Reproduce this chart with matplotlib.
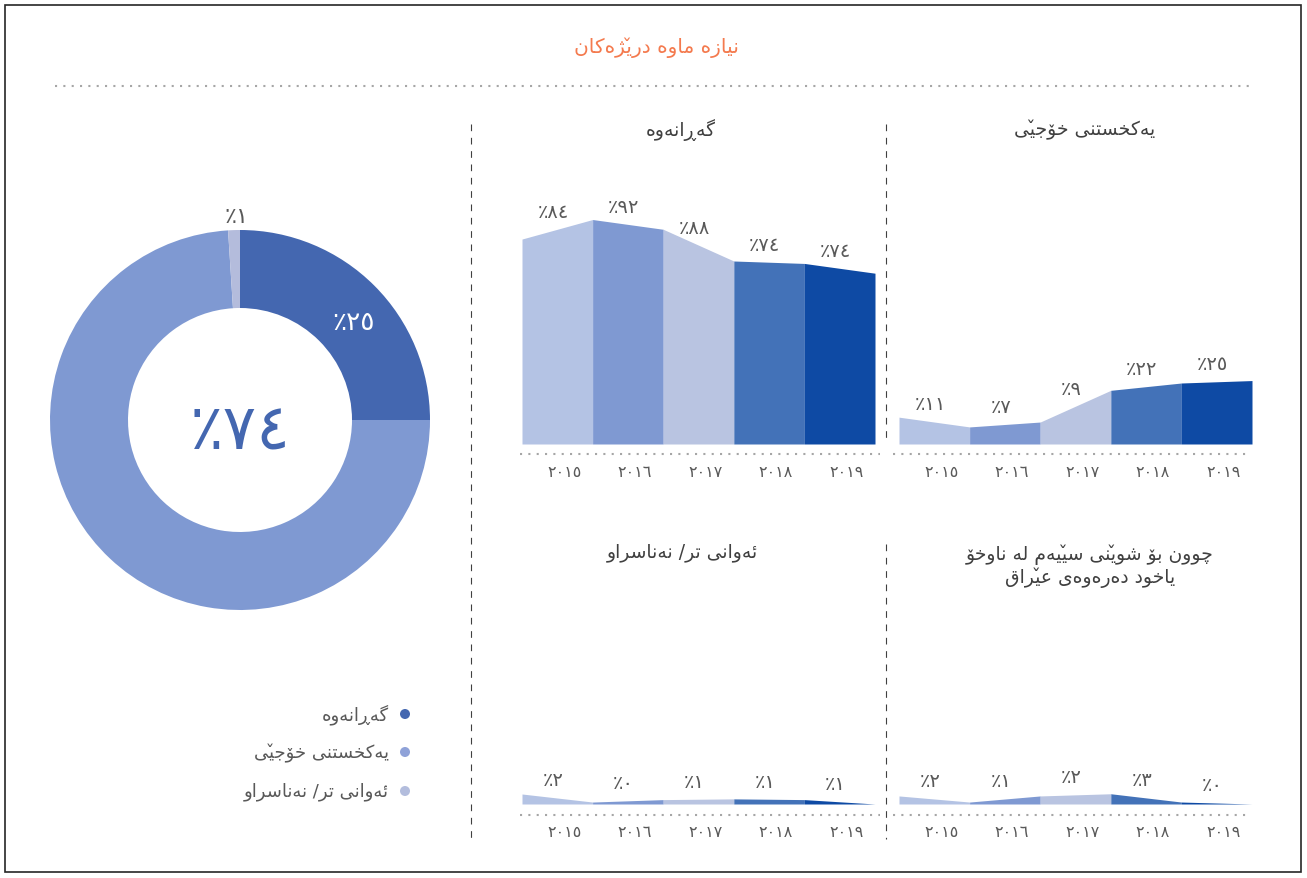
import matplotlib
matplotlib.use("Agg")
import matplotlib.pyplot as plt
from matplotlib import font_manager, ft2font
from matplotlib.patches import Rectangle, Circle

W, H = 1307, 879

title = "نیازە ماوە درێژەکان"
chart_titles = [
    "گەڕانەوە",
    "یەکخستنی خۆجێی",
    "ئەوانی تر/ نەناسراو",
    "چوون بۆ شوێنی سێیەم لە ناوخۆ\nیاخود دەرەوەی عێراق",
]
years = [2015, 2016, 2017, 2018, 2019]

# height of the area outline at each year boundary (6 points, 5 segments) + labels
return_edges = [84, 92, 88, 75, 74, 70]
return_pct = [84, 92, 88, 74, 74]
local_edges = [11, 7, 9, 22, 25, 26]
local_pct = [11, 7, 9, 22, 25]
other_edges = [4.1, 0.8, 1.8, 2.1, 1.8, 0]
other_pct = [2, 0, 1, 1, 1]
third_edges = [3.3, 0.8, 3.3, 4.2, 0.8, 0]
third_pct = [2, 1, 2, 3, 0]

donut_names = ["گەڕانەوە", "یەکخستنی خۆجێی", "ئەوانی تر/ نەناسراو"]
donut_values = [25, 74, 1]

SEG_COLORS = ["#B4C3E4", "#7F99D2", "#B9C4E1", "#4372B8", "#0E4AA4"]
DONUT_COLORS = ["#4467B0", "#7F99D2", "#B4BCDC"]
DOT_COLORS = ["#4467B0", "#8FA2D8", "#B3BDDD"]
TEXT = "#595959"

plt.rcParams["font.family"] = "DejaVu Sans"
_font = ft2font.FT2Font(font_manager.findfont("DejaVu Sans"))


def has(cp):
    return _font.get_char_index(cp) != 0


# isolated, final, initial, medial presentation forms
FORMS = {
    "ا": (0xFE8D, 0xFE8E, None, None),
    "ئ": (0xFE89, 0xFE8A, 0xFE8B, 0xFE8C),
    "ب": (0xFE8F, 0xFE90, 0xFE91, 0xFE92),
    "ت": (0xFE95, 0xFE96, 0xFE97, 0xFE98),
    "ج": (0xFE9D, 0xFE9E, 0xFE9F, 0xFEA0),
    "چ": (0xFB7A, 0xFB7B, 0xFB7C, 0xFB7D),
    "خ": (0xFEA5, 0xFEA6, 0xFEA7, 0xFEA8),
    "د": (0xFEA9, 0xFEAA, None, None),
    "ر": (0xFEAD, 0xFEAE, None, None),
    "ڕ": (0x0695, 0x0695, None, None),
    "ز": (0xFEAF, 0xFEB0, None, None),
    "ژ": (0xFB8A, 0xFB8B, None, None),
    "س": (0xFEB1, 0xFEB2, 0xFEB3, 0xFEB4),
    "ش": (0xFEB5, 0xFEB6, 0xFEB7, 0xFEB8),
    "ع": (0xFEC9, 0xFECA, 0xFECB, 0xFECC),
    "ق": (0xFED5, 0xFED6, 0xFED7, 0xFED8),
    "ک": (0xFB8E, 0xFB8F, 0xFB90, 0xFB91),
    "گ": (0xFB92, 0xFB93, 0xFB94, 0xFB95),
    "ل": (0xFEDD, 0xFEDE, 0xFEDF, 0xFEE0),
    "م": (0xFEE1, 0xFEE2, 0xFEE3, 0xFEE4),
    "ن": (0xFEE5, 0xFEE6, 0xFEE7, 0xFEE8),
    "و": (0xFEED, 0xFEEE, None, None),
    "ۆ": (0xFBD9, 0xFBDA, None, None),
    "ە": (0x06D5, 0xFEEA, None, None),
    "ی": (0xFBFC, 0xFBFD, 0xFBFE, 0xFBFF),
    "ێ": (0x06CE, 0xFBFD, 0xFBFE, 0xFBFF),
}
# small v over the joined yeh (zero-width caron, drawn back over the letter)
MARKS = {"ێ": 0x030C}


def shape(text):
    """Join Arabic-script letters and return them in visual left-to-right order."""
    lines = []
    for line in text.split("\n"):
        glyphs = []
        for i, ch in enumerate(line):
            if ch not in FORMS:
                glyphs.append(ch)
                continue
            prev = line[i - 1] if i > 0 else ""
            nxt = line[i + 1] if i + 1 < len(line) else ""
            iso, fin, ini, med = FORMS[ch]
            join_prev = prev in FORMS and FORMS[prev][2] is not None
            join_next = ini is not None and nxt in FORMS
            if join_prev and join_next:
                cp = med
            elif join_prev:
                cp = fin
            elif join_next:
                cp = ini
            else:
                cp = iso
            if not has(cp):
                cp = ord(ch) if has(ord(ch)) else iso
            g = chr(cp)
            if ch in MARKS and cp != iso and has(MARKS[ch]):
                g += chr(MARKS[ch])
            glyphs.append(g)
        lines.append("".join(reversed(glyphs)))
    return "\n".join(lines)


def ar_num(n):
    return str(n).translate(str.maketrans("0123456789", "٠١٢٣٤٥٦٧٨٩"))


def pct_text(n):
    return "٪" + ar_num(n)


def px_axes(x0, x1, y_base, height=244):
    return fig.add_axes([x0 / W, 1 - y_base / H, (x1 - x0) / W, height / H])


def draw_area(ax, edges, pct):
    ax.set_xlim(0, 5)
    ax.set_ylim(0, 100)
    ax.axis("off")
    for i in range(5):
        ax.fill_between([i, i + 1], [edges[i], edges[i + 1]], color=SEG_COLORS[i], lw=0)
        mid = (edges[i] + edges[i + 1]) / 2
        ax.annotate(pct_text(pct[i]), (i + 0.5, mid), xytext=(-3, 13), textcoords="offset points",
                    ha="center", va="center", fontsize=14, color=TEXT, annotation_clip=False)
        ax.annotate(ar_num(years[i]), (i + 0.5, 0), xytext=(5, -20), textcoords="offset points",
                    ha="center", va="center", fontsize=11.5, color=TEXT, annotation_clip=False)


fig = plt.figure(figsize=(W / 100, H / 100), dpi=100)

bg = fig.add_axes([0, 0, 1, 1])
bg.set_xlim(0, W)
bg.set_ylim(H, 0)
bg.axis("off")
bg.add_patch(Rectangle((5, 6), 1296, 867, fill=False, ec="#262626", lw=1.2))

bg.text(656, 48, shape(title), color="#F47A4E", fontsize=14.5, ha="center", va="center")
bg.plot([55, 1250], [87, 87], color="#A6A6A6", lw=1.5, ls=(0, (1, 3)))

# separators
dash = dict(color="#404040", lw=0.8, ls=(0, (6, 6)))
bg.plot([471, 471], [125, 840], **dash)
bg.plot([886, 886], [125, 440], **dash)
bg.plot([886, 886], [545, 840], **dash)

# dotted baselines under each chart
dots = dict(color="#A6A6A6", lw=1.5, ls=(0, (1, 3)))
for y in (455, 816):
    bg.plot([520, 880], [y, y], **dots)
    bg.plot([893, 1250], [y, y], **dots)

# chart titles
tkw = dict(color="#404040", fontsize=13.5, ha="center", va="center")
bg.text(681, 130, shape(chart_titles[0]), **tkw)
bg.text(1085, 130, shape(chart_titles[1]), **tkw)
bg.text(682, 553, shape(chart_titles[2]), **tkw)
bg.text(1090, 566, shape(chart_titles[3]), linespacing=1.15, **tkw)

# area charts
draw_area(px_axes(522, 875, 445), return_edges, return_pct)
draw_area(px_axes(899, 1252, 445), local_edges, local_pct)
draw_area(px_axes(522, 875, 805), other_edges, other_pct)
draw_area(px_axes(899, 1252, 805), third_edges, third_pct)

# donut
ax = fig.add_axes([50 / W, 1 - 611 / H, 380 / W, 380 / H])
ax.pie(donut_values, colors=DONUT_COLORS, startangle=90, counterclock=False, radius=1,
       wedgeprops=dict(width=78 / 190, lw=0))
ax.set_xlim(-1, 1)
ax.set_ylim(-1, 1)
ax.text(0, -0.063, pct_text(donut_values[1]), fontsize=45, color="#4467B0", ha="center", va="center")
ax.text(0.595, 0.516, pct_text(donut_values[0]), fontsize=19, color="white", ha="center", va="center")
ax.text(-0.02, 1.074, pct_text(donut_values[2]), fontsize=16, color=TEXT, ha="center", va="center")

# legend
for i, (name, y) in enumerate(zip(donut_names, [715, 753, 792])):
    bg.add_patch(Circle((405, y), 5, color=DOT_COLORS[i], lw=0))
    bg.text(389, y, shape(name), color=TEXT, fontsize=13, ha="right", va="center")

fig.savefig("out.png", dpi=100)
